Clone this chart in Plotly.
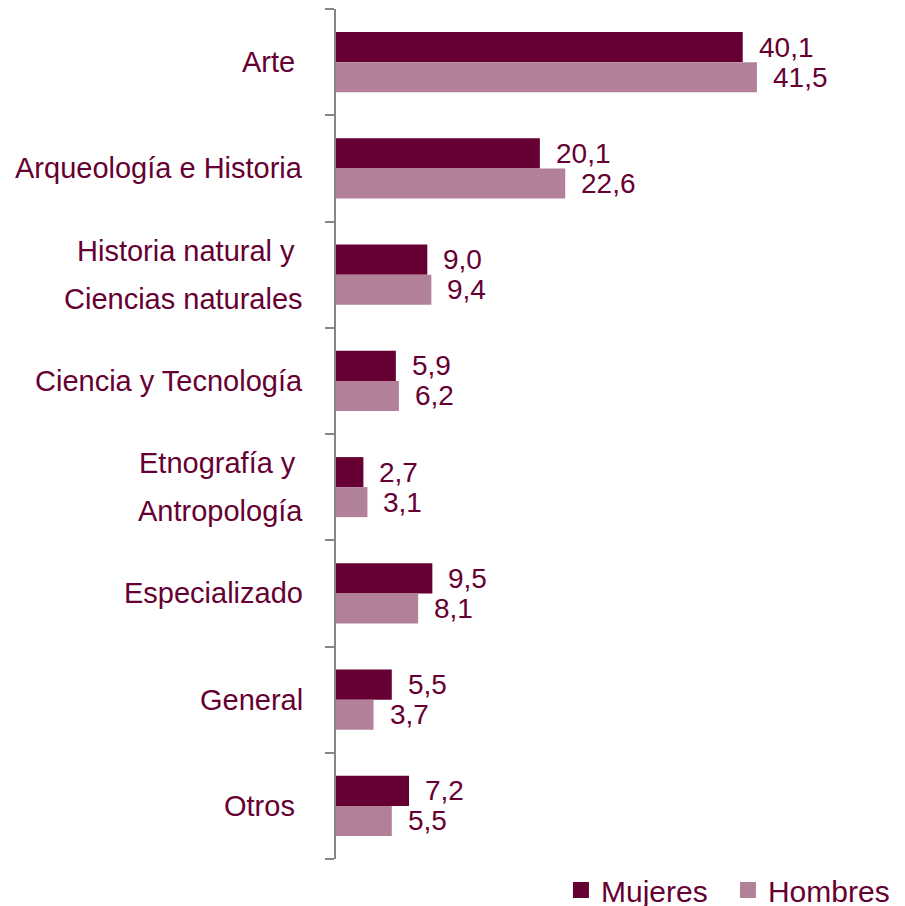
import plotly.graph_objects as go

categories = ["Arte ", "Arqueología e Historia", "Historia natural y \nCiencias naturales",
              "Ciencia y Tecnología", "Etnografía y \nAntropología", "Especializado",
              "General", "Otros "]
mujeres = [40.1, 20.1, 9.0, 5.9, 2.7, 9.5, 5.5, 7.2]
hombres = [41.5, 22.6, 9.4, 6.2, 3.1, 8.1, 3.7, 5.5]
series_names = ["Mujeres", "Hombres"]

C_M = "#660033"
C_H = "#B3809A"
TXT = "#660033"
FONT = "Liberation Sans, Arial, sans-serif"

idx = list(range(len(categories)))
fig = go.Figure()
fig.add_trace(go.Bar(y=idx, x=mujeres, orientation="h", marker=dict(color=C_M, line=dict(width=0)),
                     name=series_names[0], showlegend=False))
fig.add_trace(go.Bar(y=idx, x=hombres, orientation="h", marker=dict(color=C_H, line=dict(width=0)),
                     name=series_names[1], showlegend=False))
for nm, col in zip(series_names, [C_M, C_H]):
    fig.add_trace(go.Scatter(x=[None], y=[None], mode="markers", name=nm,
                             marker=dict(symbol="square", size=16, color=col)))

bargap = 0.435
half = (1 - bargap) / 4
ann = []
for i, (m, h) in enumerate(zip(mujeres, hombres)):
    for v, off in ((m, -half), (h, half)):
        ann.append(dict(x=v, y=i + off, xref="x", yref="y", text=f"{v:.1f}".replace(".", ","),
                        showarrow=False, xanchor="left", yanchor="middle", xshift=14,
                        font=dict(size=28, color=TXT, family=FONT)))
for i, c in enumerate(categories):
    lines = c.split("\n")
    n = len(lines)
    for k, ln in enumerate(lines):
        ys = (n - 1) * 24 - k * 48
        txt = ln[:-1] + "&nbsp;" if ln.endswith(" ") else ln
        ann.append(dict(x=0, y=i, xref="paper", yref="y", text=txt,
                        showarrow=False, xanchor="right", yanchor="middle", xshift=-31, yshift=ys,
                        font=dict(size=29, color=TXT, family=FONT)))

fig.update_layout(
    width=905, height=906,
    margin=dict(l=328, r=9, t=1, b=55),
    paper_bgcolor="white", plot_bgcolor="white",
    barmode="group", bargap=bargap, bargroupgap=0,
    annotations=ann,
    font=dict(family=FONT, size=28, color=TXT),
    legend=dict(orientation="h", xref="container", yref="container",
                x=0.611, xanchor="left", y=0.0265, yanchor="middle",
                font=dict(size=30, color=TXT, family=FONT), bgcolor="rgba(0,0,0,0)",
                itemwidth=30, tracegroupgap=0, entrywidth=122, entrywidthmode="pixels"),
    xaxis=dict(range=[0, 56], visible=False, showgrid=False, zeroline=False),
    yaxis=dict(type="linear", range=[len(categories) - 0.5, -0.5], showgrid=False, zeroline=False,
               showline=True, linecolor="#868686", linewidth=2,
               tickmode="array", tickvals=[i - 0.5 for i in range(len(categories) + 1)],
               ticktext=["" for _ in range(len(categories) + 1)],
               ticks="outside", ticklen=9, tickcolor="#868686", tickwidth=2,
               showticklabels=False),
)
fig.write_html("out.html")
